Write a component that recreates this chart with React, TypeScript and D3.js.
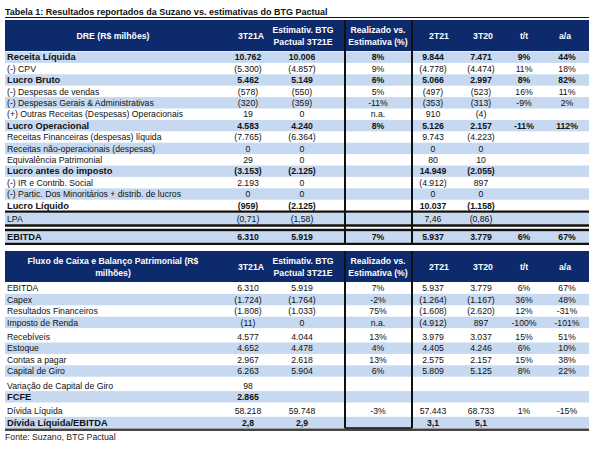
import React from "react";
import * as d3 from "d3";

const title = "Tabela 1: Resultados reportados da Suzano vs. estimativas do BTG Pactual";
const source = "Fonte: Suzano, BTG Pactual";

const colKeys = ["a", "e", "r", "q", "p", "t", "y"];
const header1 = [["DRE (R$ milhões)"], ["3T21A"], ["Estimativ. BTG", "Pactual 3T21E"], ["Realizado vs.", "Estimativa (%)"], ["2T21"], ["3T20"], ["t/t"], ["a/a"]];
const header2 = [["Fluxo de Caixa e Balanço Patrimonial (R$", "milhões)"], ["3T21A"], ["Estimativ. BTG", "Pactual 3T21E"], ["Realizado vs.", "Estimativa (%)"], ["2T21"], ["3T20"], ["t/t"], ["a/a"]];

// Table 1 (DRE)
const labels1 = ["Receita Líquida", "(-) CPV", "Lucro Bruto", "(-) Despesas de vendas", "(-) Despesas Gerais & Administrativas", "(+) Outras Receitas (Despesas) Operacionais", "Lucro Operacional", "Receitas Financeiras (despesas) líquida", "Receitas não-operacionais (despesas)", "Equivalência Patrimonial", "Lucro antes do imposto", "(-) IR e Contrib. Social", "(-) Partic. Dos Minoritários + distrib. de lucros", "Lucro Líquido", "LPA", "EBITDA"];
const a1 = ["10.762", "(5.300)", "5.462", "(578)", "(320)", "19", "4.583", "(7.765)", "0", "29", "(3.153)", "2.193", "0", "(959)", "(0,71)", "6.310"];
const e1 = ["10.006", "(4.857)", "5.149", "(550)", "(359)", "0", "4.240", "(6.364)", "0", "0", "(2.125)", "0", "0", "(2.125)", "(1,58)", "5.919"];
const r1 = ["8%", "9%", "6%", "5%", "-11%", "n.a.", "8%", "", "", "", "", "", "", "", "", "7%"];
const q1 = ["9.844", "(4.778)", "5.066", "(497)", "(353)", "910", "5.126", "9.743", "0", "80", "14.949", "(4.912)", "0", "10.037", "7,46", "5.937"];
const p1 = ["7.471", "(4.474)", "2.997", "(523)", "(313)", "(4)", "2.157", "(4.223)", "0", "10", "(2.055)", "897", "0", "(1.158)", "(0,86)", "3.779"];
const t1 = ["9%", "11%", "8%", "16%", "-9%", "", "-11%", "", "", "", "", "", "", "", "", "6%"];
const y1 = ["44%", "18%", "82%", "11%", "2%", "", "112%", "", "", "", "", "", "", "", "", "67%"];
const bold1 = [1, 0, 1, 0, 0, 0, 1, 0, 0, 0, 1, 0, 0, 1, 0, 1];
const band1 = [1, 0, 1, 0, 1, 0, 1, 0, 1, 0, 1, 0, 1, 0, 1, 1];

// Table 2 (Fluxo de caixa)
const labels2 = ["EBITDA", "Capex", "Resultados Financeiros", "Imposto de Renda", "Recebíveis", "Estoque", "Contas a pagar", "Capital de Giro", "Variação de Capital de Giro", "FCFE", "Dívida Líquida", "Dívida Líquida/EBITDA"];
const a2 = ["6.310", "(1.724)", "(1.808)", "(11)", "4.577", "4.652", "2.967", "6.263", "98", "2.865", "58.218", "2,8"];
const e2 = ["5.919", "(1.764)", "(1.033)", "0", "4.044", "4.478", "2.618", "5.904", "", "", "59.748", "2,9"];
const r2 = ["7%", "-2%", "75%", "n.a.", "13%", "4%", "13%", "6%", "", "", "-3%", ""];
const q2 = ["5.937", "(1.264)", "(1.608)", "(4.912)", "3.979", "4.405", "2.575", "5.809", "", "", "57.443", "3,1"];
const p2 = ["3.779", "(1.167)", "(2.620)", "897", "3.037", "4.246", "2.157", "5.125", "", "", "68.733", "5,1"];
const t2 = ["6%", "36%", "12%", "-100%", "15%", "6%", "15%", "8%", "", "", "1%", ""];
const y2 = ["67%", "48%", "-31%", "-101%", "51%", "10%", "38%", "22%", "", "", "-15%", ""];
const bold2 = [0, 0, 0, 0, 0, 0, 0, 0, 0, 1, 0, 1];
const band2 = [0, 1, 0, 1, 0, 1, 0, 1, 0, 1, 0, 1];
const group2 = [0, 0, 0, 0, 1, 1, 1, 1, 2, 2, 3, 3];

const W = 602, H = 455;
const L = 5, R = 589;
const NAVY = "#0c2a6c";
const BLUE = "#c6d9f0";
const FONT = "'Liberation Sans', Arial, sans-serif";
const FS = 8.7;

const xCol = d3.scaleOrdinal<string, number>().domain(["h", ...colKeys]).range([113, 248, 302, 378, 433, 481, 524, 567]);
const xHead = d3.scaleOrdinal<string, number>().domain(["h", ...colKeys]).range([113, 251, 303, 378, 439, 483, 524, 565]);
const BOX = [345, 412];
const rowH = 11.4;

function Header({ top, bottom, texts }: { top: number; bottom: number; texts: string[][] }) {
  const mid = (top + bottom) / 2;
  return (
    <g>
      <rect x={L} y={top} width={R - L} height={bottom - top} fill={NAVY} />
      {texts.map((lines, i) => {
        const k = ["h", ...colKeys][i];
        const x = xHead(k);
        return lines.map((ln, j) => (
          <text key={i + "-" + j} x={x} y={mid + 3.2 + (j - (lines.length - 1) / 2) * 12} textAnchor="middle" fill="#fff" fontWeight="bold" fontSize={FS} fontFamily={FONT}>{ln}</text>
        ));
      })}
    </g>
  );
}

function Row({ y, label, vals, bold, band }: { y: number; label: string; vals: string[]; bold: boolean; band: boolean }) {
  return (
    <g>
      {band && <rect x={L} y={y} width={R - L} height={rowH} fill={BLUE} />}
      <text x={L + 2} y={y + rowH / 2 + 3.2} fontSize={bold ? FS + 0.6 : FS} fontWeight={bold ? "bold" : "normal"} fontFamily={FONT} fill="#111">{label}</text>
      {vals.map((v, i) => (
        <text key={i} x={xCol(colKeys[i])} y={y + rowH / 2 + 3.2} textAnchor="middle" fontSize={FS} fontWeight={bold ? "bold" : "normal"} fontFamily={FONT} fill="#111">{v}</text>
      ))}
    </g>
  );
}

export default function App() {
  // Table 1 geometry
  const h1Top = 20, h1Bot = 51;
  const y1s = d3.scaleLinear().domain([0, 1]).range([h1Bot + 0.5, h1Bot + 0.5 + rowH]);
  const n1 = 14;
  const line1 = y1s(n1) + 0.5;
  const lpaY = line1 + 1.5;
  const line2 = lpaY + rowH + 1;
  const line3 = line2 + 4.5;
  const ebY = line3 + 1.5;
  const line4 = ebY + rowH + 1;

  // Table 2 geometry
  const h2Top = 251, h2Bot = 282;
  const gap = 3;
  const y2s = (i: number) => h2Bot + 0.5 + i * rowH + group2[i] * gap;
  const end2 = y2s(labels2.length - 1) + rowH;

  const vals1 = (i: number) => [a1[i], e1[i], r1[i], q1[i], p1[i], t1[i], y1[i]];
  const vals2 = (i: number) => [a2[i], e2[i], r2[i], q2[i], p2[i], t2[i], y2[i]];

  return (
    <svg width={W} height={H} style={{ position: "absolute", left: 0, top: 0, background: "#fff" }}>
      <rect width={W} height={H} fill="#fff" />
      <text x={L} y={15} fontSize={9} fontWeight="bold" fontFamily={FONT} fill="#111">{title}</text>
      <line x1={L} x2={R} y1={17.5} y2={17.5} stroke="#111" strokeWidth={1.2} />

      <Header top={h1Top} bottom={h1Bot} texts={header1} />
      {labels1.slice(0, n1).map((lb, i) => (
        <Row key={i} y={y1s(i)} label={lb} vals={vals1(i)} bold={!!bold1[i]} band={!!band1[i]} />
      ))}
      <Row y={lpaY} label={labels1[14]} vals={vals1(14)} bold={!!bold1[14]} band={!!band1[14]} />
      <Row y={ebY} label={labels1[15]} vals={vals1(15)} bold={!!bold1[15]} band={!!band1[15]} />
      {[line1, line2, line3, line4].map((ly, i) => (
        <line key={i} x1={L} x2={R} y1={ly} y2={ly} stroke="#111" strokeWidth={2.4} />
      ))}
      {BOX.map((bx, i) => (
        <line key={i} x1={bx} x2={bx} y1={h1Top} y2={line4} stroke="#111" strokeWidth={2} />
      ))}

      <Header top={h2Top} bottom={h2Bot} texts={header2} />
      {labels2.map((lb, i) => (
        <Row key={i} y={y2s(i)} label={lb} vals={vals2(i)} bold={!!bold2[i]} band={!!band2[i]} />
      ))}
      {BOX.map((bx, i) => (
        <line key={i} x1={bx} x2={bx} y1={h2Top} y2={end2} stroke="#111" strokeWidth={2} />
      ))}
      <line x1={BOX[0]} x2={BOX[1]} y1={end2} y2={end2} stroke="#111" strokeWidth={2} />
      <line x1={L} x2={R} y1={end2 + 1.5} y2={end2 + 1.5} stroke="#444" strokeWidth={2.5} />

      <text x={L} y={end2 + 12} fontSize={FS} fontFamily={FONT} fill="#222">{source}</text>
    </svg>
  );
}
